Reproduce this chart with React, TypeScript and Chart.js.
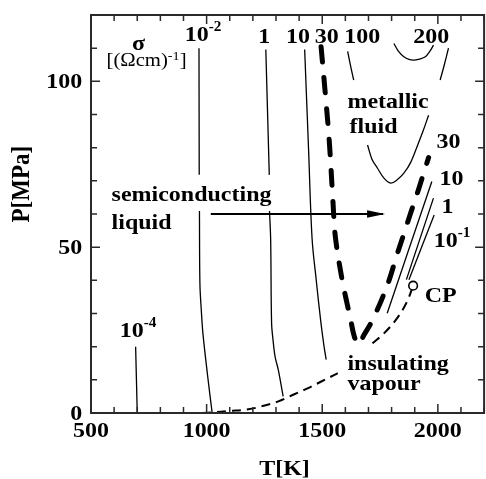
import React, { useEffect, useRef } from "react";
import { Chart, registerables } from "chart.js";

Chart.register(...registerables);

// ---------- axes ----------
const T_MIN = 500;
const T_MAX = 2200;
const P_MIN = 0;
const P_MAX = 120;
const T_LABELS = [500, 1000, 1500, 2000];
const P_LABELS = [0, 50, 100];
const T_MINOR = 100;
const P_MINOR = 10;
const X_TITLE = "T[K]";
const Y_TITLE = "P[MPa]";

// ---------- conductivity contours (T in K, P in MPa; null = gap) ----------
const s1e4T = [693, 700];
const s1e4P = [20, 0];

const s1e2T = [967, 968, null, 969, 971, 977, 984, 1003, 1024];
const s1e2P = [110, 71.8, null, 60.9, 39, 31, 24, 12, 0];

const s1T = [1256, 1271, null, 1272, 1277, 1281, 1288, 1296, 1310, 1331];
const s1P = [109.6, 71.8, null, 60.9, 52.2, 27.1, 21.5, 17, 13, 5];
const s1RightT = [1864, 1981];
const s1RightP = [40.2, 64.8];

const s10T = [1424, 1441, 1456, 1474, 1493, 1508, 1517, null, 1781, 1974];
const s10P = [109.6, 79.3, 52.7, 40.1, 28, 20, 16.1, null, 30.1, 69.8];

const s01T = [1875, 1984];
const s01P = [40.2, 59.7];

const s30T = [1495, 1513, 1531, 1546, 1557, 1586, 1604, 1623, 1639, 1657, 1681, 1710, 1731, 1753, 1789, 1820, 1853, 1881, 1910, 1935, 1960];
const s30P = [110.4, 96.5, 81.4, 64.2, 53, 40.1, 34.1, 28.1, 23, 20.6, 23.6, 27, 30.1, 33.5, 40, 47, 54, 60, 66, 71.5, 77];

const s100T = [1610, 1623, 1636, null, 1696, 1715, 1739, 1767, 1796, 1824, 1853, 1882, 1910, 1936, 1960, null, 2010, 2028, 2046];
const s100P = [109, 104.5, 100.4, null, 80.8, 76.5, 73.8, 70.8, 69.3, 70.3, 72.3, 75.5, 80.3, 85, 89.8, null, 100.4, 105, 110];

const s200T = [1810, 1830, 1853, 1875, 1896, 1920, 1946, 1965, 1981];
const s200P = [111.4, 109, 107.4, 106.6, 106.4, 106.7, 107.4, 109, 110.9];

// liquid-vapour coexistence curve up to the critical point
const vapT = [980, 1023, 1100, 1181, 1237, 1310, 1374, 1439, 1496, 1553, 1567, null, 1717, 1767, 1824, 1867, 1893];
const vapP = [0, 0.2, 0.6, 1.1, 2, 3.5, 5.5, 7.5, 9.5, 11.5, 12, null, 21, 24, 28.6, 33.6, 38.4];

const cpT = [1893];
const cpP = [38.4];

// arrow semiconducting liquid -> metallic fluid
const arrowT = [1018, 1763];
const arrowP = [60, 60];

// ---------- text annotations (anchored in data units) ----------
type Note = { text: string; sup?: string; tail?: string; T: number; P: number; center?: boolean; regular?: boolean };
const notes: Note[] = [
  { text: "σ", T: 705.5, P: 109.4, center: true },
  { text: "[(Ωcm)", sup: "-1", tail: "]", T: 567, P: 104.6, regular: true },
  { text: "10", sup: "-2", T: 905.5, P: 112.3 },
  { text: "1", T: 1249, P: 111.6, center: true },
  { text: "10", T: 1395, P: 111.6, center: true },
  { text: "30", T: 1519, P: 111.6, center: true },
  { text: "100", T: 1673, P: 111.6, center: true },
  { text: "200", T: 1971, P: 111.6, center: true },
  { text: "metallic", T: 1609, P: 92.0 },
  { text: "fluid", T: 1618, P: 84.4 },
  { text: "30", T: 1994, P: 79.9 },
  { text: "10", T: 2007, P: 68.7 },
  { text: "1", T: 2016, P: 60.4 },
  { text: "10", sup: "-1", T: 1982, P: 50.2 },
  { text: "CP", T: 1943, P: 33.6 },
  { text: "insulating", T: 1609, P: 13.0 },
  { text: "vapour", T: 1609, P: 6.9 },
  { text: "semiconducting", T: 589, P: 64.0 },
  { text: "liquid", T: 589, P: 55.6 },
  { text: "10", sup: "-4", T: 624, P: 23.0 },
];

const pts = (T: (number | null)[], P: (number | null)[]) =>
  T.map((t, i) => (t === null || P[i] === null ? { x: NaN, y: NaN } : { x: t as number, y: P[i] as number }));

const SX = 1.09;
const FONT = '"Liberation Serif", "Times New Roman", serif';
const fnt = (size: number, bold = true) => `${bold ? "bold " : ""}${size}px ${FONT}`;

function putText(ctx: CanvasRenderingContext2D, s: string, x: number, y: number, f: string) {
  ctx.save();
  ctx.font = f;
  ctx.textAlign = "left";
  ctx.textBaseline = "alphabetic";
  ctx.translate(x, y);
  ctx.scale(SX, 1);
  ctx.fillText(s, 0, 0);
  ctx.restore();
}
function textW(ctx: CanvasRenderingContext2D, s: string, f: string) {
  ctx.save();
  ctx.font = f;
  const w = ctx.measureText(s).width * SX;
  ctx.restore();
  return w;
}

const decorPlugin = {
  id: "decor",
  afterDatasetsDraw(chart: any) {
    const { ctx, chartArea: a } = chart;
    const xs = chart.scales.x;
    const ys = chart.scales.y;
    ctx.save();
    // arrow head
    const tipX = xs.getPixelForValue(arrowT[1]);
    const tipY = ys.getPixelForValue(arrowP[1]);
    ctx.fillStyle = "#000";
    ctx.beginPath();
    ctx.moveTo(tipX + 2, tipY);
    ctx.lineTo(tipX - 16, tipY - 3.8);
    ctx.lineTo(tipX - 16, tipY + 3.8);
    ctx.closePath();
    ctx.fill();

    // frame
    ctx.strokeStyle = "#2a2a2a";
    ctx.lineWidth = 2;
    ctx.strokeRect(a.left, a.top, a.right - a.left, a.bottom - a.top);
    // ticks
    ctx.lineWidth = 1.5;
    ctx.beginPath();
    for (let v = T_MIN; v <= T_MAX; v += T_MINOR) {
      const x = xs.getPixelForValue(v);
      const len = v % 500 === 0 ? 9 : 6;
      ctx.moveTo(x, a.bottom);
      ctx.lineTo(x, a.bottom - len);
      ctx.moveTo(x, a.top);
      ctx.lineTo(x, a.top + len);
    }
    for (let v = P_MIN; v <= P_MAX; v += P_MINOR) {
      const y = ys.getPixelForValue(v);
      const len = v % 50 === 0 ? 9 : 6;
      ctx.moveTo(a.left, y);
      ctx.lineTo(a.left + len, y);
      ctx.moveTo(a.right, y);
      ctx.lineTo(a.right - len, y);
    }
    ctx.stroke();

    // tick labels
    ctx.fillStyle = "#000";
    const tf = fnt(22);
    for (const v of T_LABELS) {
      const s = String(v);
      const w = textW(ctx, s, tf);
      putText(ctx, s, xs.getPixelForValue(v) - w / 2, a.bottom + 23.7, tf);
    }
    for (const v of P_LABELS) {
      const s = String(v);
      const w = textW(ctx, s, tf);
      putText(ctx, s, a.left - 8.7 - w, ys.getPixelForValue(v) + 6.6, tf);
    }
    // axis titles
    {
      const w = textW(ctx, X_TITLE, tf);
      putText(ctx, X_TITLE, (a.left + a.right) / 2 - 3 - w / 2, a.bottom + 61.6, tf);
    }
    {
      const f = fnt(23);
      ctx.save();
      ctx.font = f;
      ctx.textAlign = "center";
      ctx.textBaseline = "middle";
      ctx.translate(a.left - 68, ys.getPixelForValue(69));
      ctx.rotate(-Math.PI / 2);
      ctx.scale(1, SX);
      ctx.fillText(Y_TITLE, 0, 0);
      ctx.restore();
    }

    // annotations
    for (const n of notes) {
      const bold = !n.regular;
      const mainF = fnt(n.regular ? 19 : 22, bold);
      const supF = fnt(n.regular ? 13 : 14, bold);
      const parts: { s: string; f: string; dy: number }[] = [{ s: n.text, f: mainF, dy: 0 }];
      if (n.sup) parts.push({ s: n.sup, f: supF, dy: n.regular ? -6 : -10 });
      if (n.tail) parts.push({ s: n.tail, f: mainF, dy: 0 });
      const widths = parts.map((p) => textW(ctx, p.s, p.f));
      const total = widths.reduce((q, w) => q + w, 0);
      let x = xs.getPixelForValue(n.T);
      if (n.center) x -= total / 2;
      const y = ys.getPixelForValue(n.P);
      parts.forEach((p, i) => {
        putText(ctx, p.s, x, y + p.dy, p.f);
        x += widths[i];
      });
    }
    ctx.restore();
  },
};

const thin = { borderColor: "#000", borderWidth: 1.3, pointRadius: 0, tension: 0.35, fill: false };

export default function App() {
  const ref = useRef<HTMLCanvasElement | null>(null);
  useEffect(() => {
    document.body.style.margin = "0";
    const canvas = ref.current;
    if (!canvas) return;
    const chart = new Chart(canvas, {
      type: "line",
      data: {
        datasets: [
          {
            label: "CP",
            data: pts(cpT, cpP),
            showLine: false,
            pointRadius: 4.3,
            pointBorderWidth: 1.6,
            pointBorderColor: "#000",
            pointBackgroundColor: "#fff",
            borderColor: "#000",
          } as any,
          { label: "arrow", data: pts(arrowT, arrowP), borderColor: "#000", borderWidth: 2, pointRadius: 0, tension: 0 },
          { label: "σ=1e-4", data: pts(s1e4T, s1e4P), ...thin },
          { label: "σ=1e-2", data: pts(s1e2T, s1e2P), ...thin },
          { label: "σ=1e-1", data: pts(s01T, s01P), ...thin },
          { label: "σ=1", data: pts(s1T, s1P), ...thin },
          { label: "σ=1 right", data: pts(s1RightT, s1RightP), ...thin },
          { label: "σ=10", data: pts(s10T, s10P), ...thin },
          { label: "σ=100", data: pts(s100T, s100P), ...thin },
          { label: "σ=200", data: pts(s200T, s200P), ...thin },
          {
            label: "σ=30",
            data: pts(s30T, s30P),
            borderColor: "#000",
            borderWidth: 5,
            borderDash: [15, 16],
            borderCapStyle: "round",
            pointRadius: 0,
            tension: 0.35,
          },
          {
            label: "coexistence",
            data: pts(vapT, vapP),
            borderColor: "#000",
            borderWidth: 2,
            borderDash: [9, 6],
            pointRadius: 0,
            tension: 0.35,
          },
        ],
      },
      options: {
        responsive: false,
        animation: false,
        devicePixelRatio: 1,
        layout: { padding: { left: 91, right: 2, top: 15, bottom: 66 } },
        scales: {
          x: { type: "linear", min: T_MIN, max: T_MAX, display: false },
          y: { type: "linear", min: P_MIN, max: P_MAX, display: false },
        },
        plugins: { legend: { display: false }, tooltip: { enabled: false }, title: { display: false } },
        events: [],
      },
      plugins: [decorPlugin],
    });
    return () => chart.destroy();
  }, []);
  return (
    <div style={{ width: 486, height: 479, overflow: "hidden", position: "relative", background: "#fff" }}>
      <canvas ref={ref} width={490} height={479} style={{ display: "block", width: 490, height: 479 }} />
    </div>
  );
}
